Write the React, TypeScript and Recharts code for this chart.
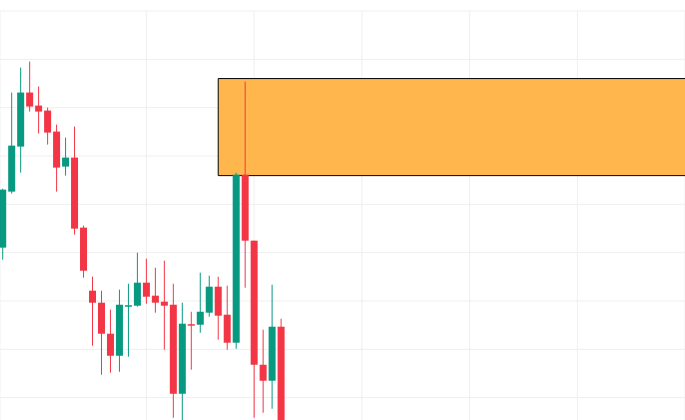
import { ComposedChart, Bar, XAxis, YAxis, CartesianGrid, ReferenceArea } from "recharts";

// candle index, open, high, low, close
const idx = [0, 1, 2, 3, 4, 5, 6, 7, 8, 9, 10, 11, 12, 13, 14, 15, 16, 17, 18, 19, 20, 21, 22, 23, 24, 25, 26, 27, 28, 29, 30, 31];
const opens = [141.04, 152.63, 161.95, 173.13, 170.43, 169.4, 165.05, 157.81, 159.67, 145.18, 132.13, 129.65, 123.23, 118.67, 128.92, 129.03, 133.79, 131.1, 129.86, 129.23, 110.81, 125.2, 125.09, 127.58, 132.96, 127.16, 121.37, 156.15, 142.48, 116.81, 113.5, 124.68];
const highs = [153.25, 173.13, 178.3, 179.54, 174.37, 170.02, 166.5, 163.81, 166.09, 145.59, 135.03, 132.13, 128.2, 132.34, 133.58, 140.0, 138.76, 136.89, 138.34, 133.58, 129.65, 127.78, 135.86, 135.24, 135.03, 133.17, 156.56, 175.4, 142.48, 124.06, 133.37, 126.34];
const lows = [138.55, 152.22, 156.56, 169.19, 164.64, 162.36, 152.63, 155.94, 143.73, 134.82, 120.75, 114.74, 115.16, 115.36, 118.47, 128.82, 129.44, 127.58, 119.92, 105.84, 102.94, 115.78, 123.44, 126.75, 121.99, 119.92, 120.12, 132.75, 105.84, 106.87, 107.7, 100.5];
const closes = [153.04, 162.15, 173.13, 170.23, 169.19, 164.84, 157.6, 159.67, 144.97, 136.27, 129.65, 123.23, 118.67, 129.23, 129.13, 133.79, 130.89, 129.65, 129.03, 110.81, 125.3, 124.99, 127.78, 132.96, 126.96, 121.37, 156.15, 142.48, 116.81, 113.5, 124.68, 101.28];

const priceTicks = [100, 110, 120, 130, 140, 150, 160, 170, 180, 190];
const timeTicks = [16, 28, 40, 52, 64];

// orange zone
const zoneFrom = 24;
const zoneTo = 90;
const zoneLow = 155.94;
const zoneHigh = 176.02;

const UP = "#089981";
const DOWN = "#F23645";

const data = idx.map((i, k) => ({
  i,
  open: opens[k],
  high: highs[k],
  low: lows[k],
  close: closes[k],
  range: [lows[k], highs[k]],
}));

function Candle(props: any) {
  const { x, y, width, height, payload } = props;
  const { open, close, high, low } = payload;
  const color = close >= open ? UP : DOWN;
  const ratio = height / (high - low);
  const cx = x + width / 2;
  const top = y + (high - Math.max(open, close)) * ratio;
  const bottom = y + (high - Math.min(open, close)) * ratio;
  const bodyH = Math.max(bottom - top, 1.5);
  return (
    <g>
      <line x1={cx} x2={cx} y1={y} y2={y + height} stroke={color} strokeWidth={1} />
      <rect x={x} y={top} width={width} height={bodyH} fill={color} />
    </g>
  );
}

export default function App() {
  return (
    <div
      style={{
        position: "absolute",
        top: 0,
        left: 0,
        width: 685,
        height: 420,
        overflow: "hidden",
        background: "#fff",
      }}
    >
      <ComposedChart
        width={685}
        height={446}
        data={data}
        margin={{ top: 11, right: 0, bottom: 0, left: 0 }}
      >
        <CartesianGrid stroke="#efefef" strokeWidth={1} />
        <XAxis
          type="number"
          dataKey="i"
          domain={[-0.3, 75.98]}
          ticks={timeTicks}
          allowDataOverflow
          hide
        />
        <YAxis
          type="number"
          domain={[100, 190]}
          ticks={priceTicks}
          allowDataOverflow
          hide
        />
        <ReferenceArea
          x1={zoneFrom}
          x2={zoneTo}
          y1={zoneLow}
          y2={zoneHigh}
          ifOverflow="hidden"
          fill="#FFB74D"
          fillOpacity={1}
          stroke="#000"
          strokeWidth={1}
        />
        <Bar
          dataKey="range"
          barSize={7}
          shape={Candle}
          isAnimationActive={false}
        />
      </ComposedChart>
    </div>
  );
}
